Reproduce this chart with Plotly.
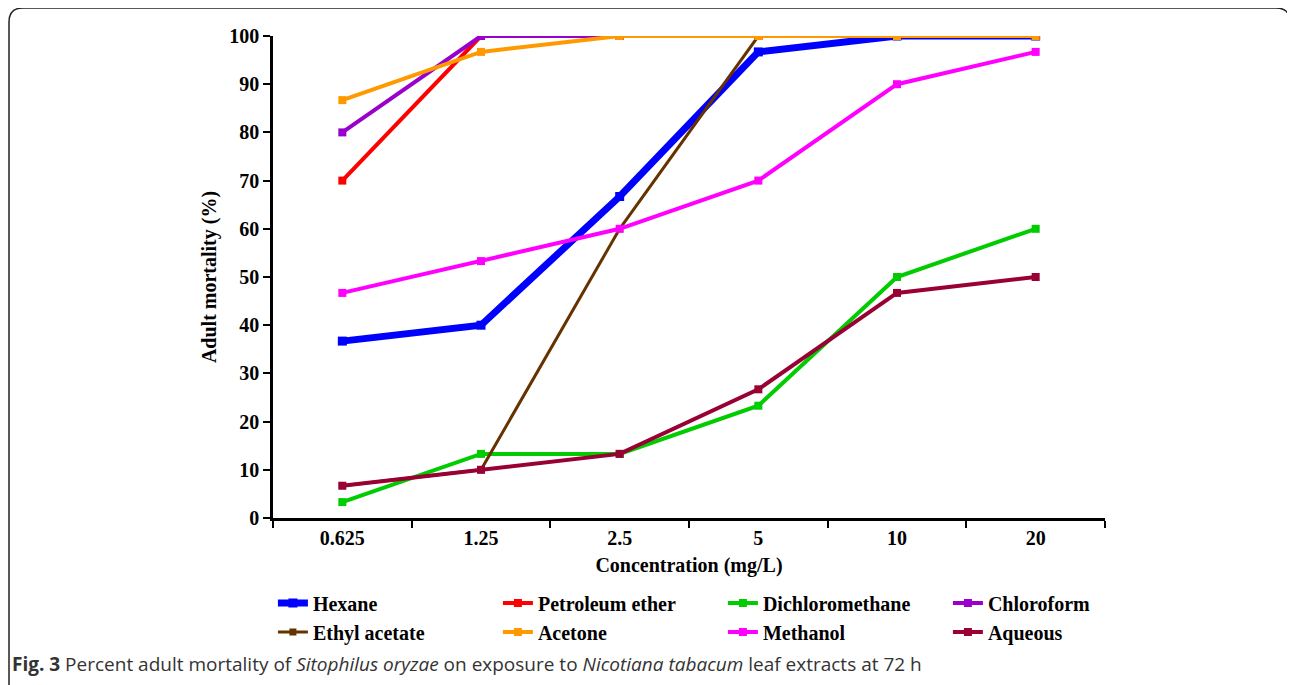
import plotly.graph_objects as go

concentrations = ["0.625", "1.25", "2.5", "5", "10", "20"]
series_names = ["Hexane", "Petroleum ether", "Dichloromethane", "Chloroform",
                "Ethyl acetate", "Acetone", "Methanol", "Aqueous"]
hexane = [36.7, 40.0, 66.7, 96.7, 100, 100]
petroleum_ether = [70.0, 100, 100, 100, 100, 100]
dichloromethane = [3.3, 13.3, 13.3, 23.3, 50.0, 60.0]
chloroform = [80.0, 100, 100, 100, 100, 100]
ethyl_acetate = [6.7, 10.0, 60.0, 100, 100, 100]
acetone = [86.7, 96.7, 100, 100, 100, 100]
methanol = [46.7, 53.3, 60.0, 70.0, 90.0, 96.7]
aqueous = [6.7, 10.0, 13.3, 26.7, 46.7, 50.0]

values = [hexane, petroleum_ether, dichloromethane, chloroform,
          ethyl_acetate, acetone, methanol, aqueous]
colors = ["#0000FF", "#FF0000", "#00CC00", "#9900CC",
          "#663300", "#FF9900", "#FF00FF", "#990033"]
widths = [7, 4, 4, 4, 3, 4, 4, 4]
msizes = [9, 8, 8, 8, 7, 8, 8, 8]

fig = go.Figure()
for name, vals, c, w, ms in zip(series_names, values, colors, widths, msizes):
    fig.add_trace(go.Scatter(
        x=concentrations, y=vals, name=name, mode="lines+markers",
        line=dict(color=c, width=w),
        marker=dict(symbol="square", size=ms, color=c),
    ))

serif = "Liberation Serif"
fig.update_layout(
    width=1287, height=677,
    margin=dict(l=265, r=190, t=28, b=167),
    paper_bgcolor="white", plot_bgcolor="white",
    font=dict(family=serif, size=20, color="black"),
    showlegend=True,
    legend=dict(
        orientation="h", x=-0.0001, xanchor="left", y=-0.1357, yanchor="top",
        font=dict(family=serif, size=20, color="black", weight="bold"),
        entrywidth=180, entrywidthmode="pixels",
        tracegroupgap=0, itemwidth=30,
    ),
    xaxis=dict(
        type="category", range=[-0.5, len(concentrations) - 0.5],
        showline=True, linecolor="black", linewidth=2.5,
        ticks="outside", ticklen=7, tickwidth=2, tickcolor="black",
        tickson="boundaries", showgrid=False, zeroline=False,
        tickfont=dict(family=serif, size=20, weight="bold"),
        title=dict(text="Concentration (mg/L)", standoff=11,
                   font=dict(family=serif, size=20, weight="bold")),
    ),
    yaxis=dict(
        range=[0, 100], tickvals=list(range(0, 101, 10)),
        showline=True, linecolor="black", linewidth=2.5,
        ticks="outside", ticklen=7, tickwidth=2, tickcolor="black",
        showgrid=False, zeroline=False,
        tickfont=dict(family=serif, size=20, weight="bold"),
        title=dict(text="Adult mortality (%)", standoff=8,
                   font=dict(family=serif, size=20, weight="bold")),
    ),
)

fig.add_annotation(
    xref="paper", yref="paper", x=-0.316, y=-0.303,
    xanchor="left", yanchor="middle", showarrow=False,
    text="<b>Fig. 3</b> Percent adult mortality of <i>Sitophilus oryzae</i> on exposure to "
         "<i>Nicotiana tabacum</i> leaf extracts at 72 h",
    font=dict(family="Open Sans", size=19, color="#333333"),
)

# rounded frame around the figure (bottom edge lies outside the page)
x0 = (9 - 273) / 832
x1 = (1290 - 273) / 832
ytop = (518 - 8) / 482
ybot = (518 - 700) / 482
rx = 14 / 832
ry = 14 / 482
path = (f"M {x0},{ybot} L {x0},{ytop - ry} Q {x0},{ytop} {x0 + rx},{ytop} "
        f"L {x1 - rx},{ytop} Q {x1},{ytop} {x1},{ytop - ry} L {x1},{ybot}")
fig.add_shape(type="path", xref="paper", yref="paper", path=path,
              line=dict(color="#222222", width=1.5), layer="above")

fig.write_html("out.html")
